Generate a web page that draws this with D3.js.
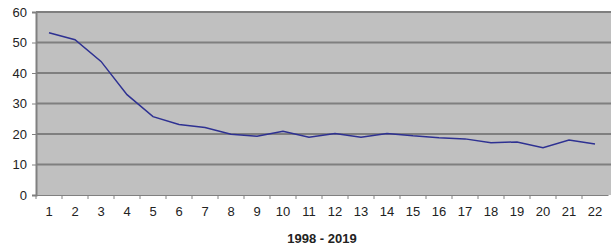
<!DOCTYPE html>
<html lang="en">
<head>
    <meta charset="UTF-8">
    <title>1998 - 2019</title>
    <style>
        body { margin: 0; background: #fff; }
        text { font-family: "Liberation Sans", Arial, sans-serif; fill: #222; }
    </style>
</head>
<body>
    <div class="chart"></div>

    <script src="https://d3js.org/d3.v7.min.js"></script>
    <script>
        var width = 611
        var height = 248

        // x categories 1..22, y values
        var categories = ["1","2","3","4","5","6","7","8","9","10","11","12","13","14","15","16","17","18","19","20","21","22"]
        var values = [53.2, 50.9, 43.8, 32.9, 25.7, 23.1, 22.1, 19.9, 19.3, 20.9, 18.9, 20.2, 18.9, 20.2, 19.4, 18.8, 18.4, 17.1, 17.4, 15.5, 18.0, 16.7]
        var yTicks = [0, 10, 20, 30, 40, 50, 60]
        var xTitle = "1998 - 2019"

        // note: "top" is taken by window.top, so use plot* names
        var plotLeft = 36, plotRight = 608, plotTop = 12, plotBottom = 195

        var svg = d3.select(".chart").append("svg")
            .attr("width", width)
            .attr("height", height)

        var x = d3.scaleBand().domain(categories).range([plotLeft, plotRight])
        var y = d3.scaleLinear().domain([0, 60]).range([plotBottom, plotTop])

        // plot background
        svg.append("rect")
            .attr("x", plotLeft)
            .attr("y", plotTop)
            .attr("width", width - plotLeft)
            .attr("height", plotBottom - plotTop)
            .style("fill", "#c0c0c0")

        // gridlines
        svg.selectAll(".grid")
            .data(yTicks.filter(function(d) { return d > 0 }))
            .enter()
            .append("line")
            .attr("class", "grid")
            .attr("x1", plotLeft)
            .attr("x2", width)
            .attr("y1", function(d) { return y(d) })
            .attr("y2", function(d) { return y(d) })
            .style("stroke", "#7f7f7f")
            .style("stroke-width", 2)

        // y axis
        var yAxis = svg.append("g")
            .attr("transform", "translate(" + plotLeft + ",0)")
            .call(d3.axisLeft(y).tickValues(yTicks).tickSize(4).tickPadding(5))
        yAxis.select(".domain").style("stroke", "#808080").style("stroke-width", 2)
        yAxis.selectAll(".tick line").style("stroke", "#808080")
        yAxis.selectAll("text").style("font-size", "13px").style("fill", "#222")

        // x axis, ticks between categories
        var xAxis = svg.append("g")
            .attr("transform", "translate(0," + plotBottom + ")")
            .call(d3.axisBottom(x).tickSize(0).tickPadding(12))
        xAxis.select(".domain").style("stroke", "#808080").style("stroke-width", 1)
        xAxis.selectAll("text").style("font-size", "13px").style("fill", "#222")

        svg.selectAll(".xtick")
            .data(categories)
            .enter()
            .append("line")
            .attr("class", "xtick")
            .attr("x1", function(d) { return x(d) })
            .attr("x2", function(d) { return x(d) })
            .attr("y1", plotBottom)
            .attr("y2", plotBottom + 4)
            .style("stroke", "#808080")

        // the series
        var line = d3.line()
            .x(function(d, i) { return x(categories[i]) + x.bandwidth() / 2 })
            .y(function(d) { return y(d) })

        svg.append("path")
            .datum(values)
            .attr("d", line)
            .style("fill", "none")
            .style("stroke", "#2e3192")
            .style("stroke-width", 1.5)

        // axis title
        svg.append("text")
            .attr("x", (plotLeft + plotRight) / 2)
            .attr("y", 243)
            .attr("text-anchor", "middle")
            .style("font-size", "13px")
            .style("font-weight", "bold")
            .text(xTitle)
    </script>
</body>
</html>
